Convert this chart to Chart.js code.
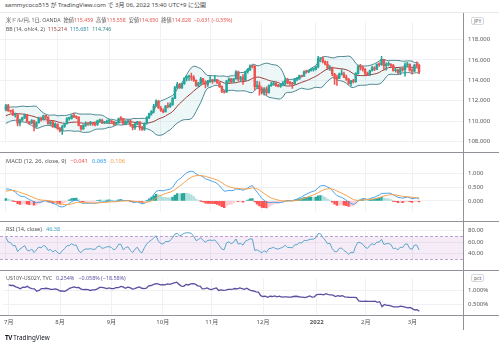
<!DOCTYPE html>
<html>
<head>
<meta charset="utf-8">
<script src="https://cdn.jsdelivr.net/npm/chart.js@4.4.1/dist/chart.umd.min.js"></script>
<style>
  body { margin: 0; background: #fff; width: 499px; height: 347px; overflow: hidden; position: relative;
         font-family: "Noto Sans", "Noto Sans CJK JP", sans-serif; }
  .pane { position: absolute; left: 0; width: 499px; }
  .txt { position: absolute; font-size: 5.2px; line-height: 8px; color: #555; white-space: nowrap; z-index: 5; }
  .txt span { margin-right: 3px; }
  .txt.wide span { margin-right: 4px; }
  .hl { position: absolute; left: 0; width: 499px; height: 1px; background: #8f9298; z-index: 4; }
  .vl { position: absolute; left: 463px; width: 1px; top: 13px; height: 317px; background: #8f9298; z-index: 4; }
  .tag { position: absolute; left: 471px; font-size: 5px; line-height: 6px; padding: 0 2px; color: #666;
         border: 1px solid #d6d8de; border-radius: 2px; z-index: 5; background: #fff; }
  .r { color: #e5534b; }
</style>
</head>
<body>
<div class="pane" style="top:13px;height:139px"><canvas id="main"></canvas></div>
<div class="pane" style="top:152px;height:69px"><canvas id="macd"></canvas></div>
<div class="pane" style="top:221px;height:49px"><canvas id="rsi"></canvas></div>
<div class="pane" style="top:270px;height:60px"><canvas id="spread"></canvas></div>

<div class="hl" style="top:12px;background:#e6e8ee"></div>
<div class="hl" style="top:152px"></div>
<div class="hl" style="top:221px"></div>
<div class="hl" style="top:270px"></div>
<div class="hl" style="top:315px"></div>
<div class="vl"></div>

<div class="txt" style="left:5px;top:1px;font-size:6px;color:#444">sammycoco515 が TradingView.com で 3月 06, 2022 15:40 UTC+9 に公開</div>
<div class="txt" style="left:6px;top:16px">
  <span>米ドル/円, 1日, OANDA</span><span>始値<b class="r" style="font-weight:normal">115.459</b></span><span>高値<b class="r" style="font-weight:normal">115.558</b></span><span>安値<b class="r" style="font-weight:normal">114.650</b></span><span>終値<b class="r" style="font-weight:normal">114.828</b></span><span class="r">−0.631 (−0.55%)</span>
</div>
<div class="txt" style="left:6px;top:25px">
  <span>BB (14, ohlc4, 2)</span><span style="color:#9c3d3a">115.214</span><span style="color:#2f86a6">115.681</span><span style="color:#2f8a80">114.746</span>
</div>
<div class="txt wide" style="left:6px;top:157px;font-size:5.7px">
  <span>MACD (12, 26, close, 9)</span><span style="color:#ef5350">−0.041</span><span style="color:#2196f3">0.065</span><span style="color:#f39c3d">0.106</span>
</div>
<div class="txt wide" style="left:6px;top:225px;font-size:5.6px">
  <span>RSI (14, close)</span><span style="color:#3fa7c4">46.38</span>
</div>
<div class="txt wide" style="left:6px;top:274px;font-size:5.4px">
  <span>US10Y-US02Y, TVC</span><span style="color:#5b4fa0">0.254%</span><span style="color:#5b4fa0">−0.058% (−18.58%)</span>
</div>
<div class="tag" style="top:17px">JPY</div>
<div class="tag" style="top:274px">pct</div>
<div class="txt" style="left:5px;top:333px;font-size:6.3px;line-height:9px;color:#131722">
  <b style="letter-spacing:-0.5px">TV</b> TradingView
</div>

<script>
// daily USD/JPY candles, 2021-05-17 .. 2022-03-04 (first WARMUP bars only feed the indicators)
const WARMUP = 33;

const opens = [
  109.35, 109.21, 108.88, 109.22, 108.76, 108.96, 108.76, 108.74, 109.14, 109.86, 109.85,
  109.57, 109.48, 109.50, 110.29, 109.52, 109.25, 109.47, 109.62, 109.32, 109.67, 110.05, 110.07, 110.70, 110.20, 110.21, 110.31, 110.65, 110.90, 110.85, 110.75, 110.61, 110.52,
  111.10, 111.53, 111.04, 110.97, 110.62, 110.62, 109.80, 110.12, 110.35, 110.62, 109.95, 109.82, 110.07, 109.49, 109.85, 110.30, 110.15, 110.55, 110.39, 109.77, 109.91, 109.47,
  109.72, 109.30, 109.05, 109.48, 109.77, 110.25, 110.28, 110.58, 110.41, 110.40, 109.58, 109.25, 109.61, 109.77, 109.74, 109.79, 109.72, 109.69, 110.03, 110.09, 109.83, 109.90,
  110.00, 110.02, 109.93, 109.71, 109.84, 110.26, 110.25, 109.72, 109.93, 110.03, 109.67, 109.38, 109.71, 109.93, 109.41, 109.23, 109.79, 110.34, 110.74, 111.00, 111.49, 111.97,
  111.29, 111.05, 110.92, 111.45, 111.42, 111.62, 112.23, 113.30, 113.60, 113.26, 113.68, 114.21, 114.35, 114.37, 114.30, 113.99, 113.49, 113.70, 114.14, 113.81, 113.59,
  113.95, 114.00, 113.96, 114.06, 113.75, 113.40, 112.92, 112.86, 113.93, 114.12, 113.86, 114.14, 114.83, 114.10, 114.27, 114.00, 114.85, 115.07, 115.40, 115.36, 113.38, 113.50,
  113.17, 112.80, 113.17, 112.80, 113.48, 113.57, 113.73, 113.48, 113.41, 113.57, 113.72, 114.04, 113.72, 113.70, 113.65, 114.11, 114.12, 114.45, 114.40, 114.86, 114.82, 114.97, 115.07,
  115.08, 115.32, 116.13, 116.13, 115.83, 115.57, 115.20, 115.27, 114.63, 114.20, 114.19, 114.60, 114.62, 114.30, 114.10, 113.70, 113.94, 113.87, 114.66, 115.34, 115.26,
  115.09, 114.68, 114.53, 114.96, 115.23, 115.10, 115.55, 115.54, 116.04, 115.43, 115.55, 115.59, 115.46, 114.93, 115.00, 114.77, 115.11, 115.05, 115.52, 115.55,
  114.99, 114.90, 115.46, 115.459
];
const highs = [
  109.45, 109.30, 109.30, 109.30, 109.05, 108.98, 108.95, 109.20, 109.95, 110.20, 109.90,
  109.70, 109.65, 110.33, 110.35, 109.65, 109.55, 109.70, 109.75, 109.72, 110.15, 110.15, 110.80, 110.82, 110.45, 110.38, 110.75, 111.00, 111.05, 110.95, 110.80, 110.70, 111.12,
  111.66, 111.65, 111.10, 111.15, 110.80, 110.65, 110.20, 110.40, 110.70, 110.65, 110.00, 110.15, 110.10, 109.95, 110.40, 110.40, 110.60, 110.60, 110.45, 110.00, 110.00, 109.85,
  109.75, 109.40, 109.60, 109.80, 110.35, 110.40, 110.62, 110.80, 110.50, 110.42, 109.60, 109.65, 109.95, 109.85, 110.00, 109.90, 109.85, 110.10, 110.20, 110.20, 110.00, 110.10,
  110.20, 110.10, 110.00, 109.92, 110.30, 110.45, 110.28, 110.05, 110.15, 110.16, 109.70, 109.80, 110.00, 109.95, 109.50, 109.85, 110.45, 110.80, 111.05, 111.65, 112.08, 112.05,
  111.45, 111.20, 111.55, 111.80, 111.80, 112.30, 113.40, 113.80, 113.70, 113.75, 114.25, 114.45, 114.50, 114.70, 114.45, 114.05, 113.80, 114.30, 114.20, 113.95, 114.00,
  114.40, 114.10, 114.45, 114.10, 113.80, 113.45, 113.00, 114.00, 114.25, 114.20, 114.20, 114.95, 114.90, 114.40, 114.55, 114.90, 115.15, 115.52, 115.45, 115.45, 113.90, 113.85,
  113.35, 113.30, 113.35, 113.55, 113.80, 113.90, 113.78, 113.60, 113.70, 113.90, 114.25, 114.20, 113.90, 113.80, 114.20, 114.30, 114.52, 114.50, 114.92, 115.00, 115.00, 115.15, 115.20,
  115.40, 116.35, 116.20, 116.30, 115.90, 115.85, 115.45, 115.30, 114.65, 114.50, 114.70, 115.05, 114.80, 114.50, 114.20, 114.00, 114.10, 114.75, 115.50, 115.55, 115.40,
  115.15, 114.80, 115.00, 115.40, 115.35, 115.60, 115.70, 116.34, 116.05, 115.70, 115.80, 115.60, 115.55, 115.20, 115.10, 115.20, 115.20, 115.70, 115.75, 115.60,
  115.15, 115.55, 115.80, 115.558
];
const lows = [
  109.05, 108.80, 108.60, 108.70, 108.70, 108.58, 108.60, 108.68, 109.07, 109.70, 109.40,
  109.30, 109.40, 109.45, 109.45, 109.20, 109.20, 109.40, 109.20, 109.30, 109.60, 109.95, 109.95, 110.10, 110.00, 109.75, 110.25, 110.55, 110.75, 110.70, 110.50, 110.40, 110.45,
  111.00, 110.95, 110.85, 110.55, 110.40, 109.55, 109.55, 110.00, 110.25, 109.90, 109.70, 109.75, 109.05, 109.40, 109.80, 110.00, 110.10, 110.25, 109.70, 109.60, 109.40, 109.35,
  109.20, 108.95, 108.72, 109.40, 109.70, 110.10, 110.20, 110.35, 110.25, 109.55, 109.12, 109.20, 109.50, 109.60, 109.60, 109.60, 109.55, 109.60, 109.90, 109.75, 109.75, 109.80,
  109.85, 109.85, 109.60, 109.65, 109.80, 110.05, 109.70, 109.65, 109.80, 109.50, 109.15, 109.20, 109.65, 109.12, 109.10, 109.10, 109.70, 110.25, 110.60, 110.80, 111.45, 111.25,
  110.95, 110.80, 110.90, 111.30, 111.35, 111.55, 112.20, 113.15, 113.20, 113.20, 113.60, 113.95, 114.00, 114.00, 113.90, 113.40, 113.35, 113.60, 113.60, 113.25, 113.40,
  113.80, 113.70, 113.85, 113.70, 113.30, 112.80, 112.73, 112.80, 113.80, 113.75, 113.80, 114.10, 113.95, 113.90, 113.60, 114.00, 114.70, 114.95, 115.20, 113.05, 113.20, 112.55,
  112.65, 112.55, 112.55, 112.75, 113.40, 113.50, 113.40, 113.35, 113.30, 113.45, 113.50, 113.65, 113.55, 113.20, 113.60, 113.95, 114.10, 114.30, 114.38, 114.70, 114.75, 114.90, 114.90,
  115.00, 115.20, 115.80, 115.70, 115.50, 115.05, 114.95, 114.45, 113.60, 113.50, 114.15, 114.50, 114.25, 114.00, 113.60, 113.45, 113.75, 113.80, 114.60, 115.00, 114.90,
  114.55, 114.45, 114.45, 114.90, 114.95, 115.05, 115.35, 115.45, 115.00, 115.00, 115.40, 115.30, 114.90, 114.80, 114.60, 114.55, 114.90, 114.40, 115.30, 114.90,
  114.60, 114.85, 115.30, 114.650
];
const closes = [
  109.21, 108.88, 109.22, 108.76, 108.96, 108.76, 108.74, 109.14, 109.86, 109.85, 109.57,
  109.48, 109.50, 110.29, 109.52, 109.25, 109.47, 109.62, 109.32, 109.67, 110.05, 110.07, 110.70, 110.20, 110.21, 110.31, 110.65, 110.90, 110.85, 110.75, 110.61, 110.52, 111.10,
  111.53, 111.04, 110.97, 110.62, 110.62, 109.80, 110.12, 110.35, 110.62, 109.95, 109.82, 110.07, 109.49, 109.85, 110.30, 110.15, 110.55, 110.39, 109.77, 109.91, 109.47, 109.72,
  109.30, 109.05, 109.48, 109.77, 110.25, 110.28, 110.58, 110.41, 110.40, 109.58, 109.25, 109.61, 109.77, 109.74, 109.79, 109.72, 109.69, 110.03, 110.09, 109.83, 109.90, 110.00,
  110.02, 109.93, 109.71, 109.84, 110.26, 110.25, 109.72, 109.93, 110.03, 109.67, 109.38, 109.71, 109.93, 109.41, 109.23, 109.79, 110.34, 110.74, 111.00, 111.49, 111.97, 111.29,
  111.05, 110.92, 111.45, 111.42, 111.62, 112.23, 113.30, 113.60, 113.26, 113.68, 114.21, 114.35, 114.37, 114.30, 113.99, 113.49, 113.70, 114.14, 113.81, 113.59, 113.95,
  114.00, 113.96, 114.06, 113.75, 113.40, 112.92, 112.86, 113.93, 114.12, 113.86, 114.14, 114.83, 114.10, 114.27, 114.00, 114.85, 115.07, 115.40, 115.36, 113.38, 113.50, 113.17,
  112.80, 113.17, 112.80, 113.48, 113.57, 113.73, 113.48, 113.41, 113.57, 113.72, 114.04, 113.72, 113.70, 113.65, 114.11, 114.12, 114.45, 114.40, 114.86, 114.82, 114.97, 115.07, 115.08,
  115.32, 116.13, 116.13, 115.83, 115.57, 115.20, 115.27, 114.63, 114.20, 114.19, 114.60, 114.62, 114.30, 114.10, 113.70, 113.94, 113.87, 114.66, 115.34, 115.26, 115.09,
  114.68, 114.53, 114.96, 115.23, 115.10, 115.55, 115.54, 116.04, 115.43, 115.55, 115.59, 115.46, 114.93, 115.00, 114.77, 115.11, 115.05, 115.52, 115.55, 114.99,
  114.90, 115.46, 115.459, 114.828
];

// US10Y - US02Y spread (%), 2021-07-01 .. 2022-03-04
const spread = [
  1.21, 1.19, 1.19, 1.14, 1.11, 1.07, 1.13, 1.12, 1.16, 1.10, 1.08, 1.07, 0.98, 1.01, 1.08, 1.08, 1.09, 1.08, 1.05, 1.05, 1.07, 1.04,
  0.99, 0.99, 0.98, 1.02, 1.09, 1.11, 1.14, 1.11, 1.12, 1.06, 1.04, 1.05, 1.04, 1.01, 1.03, 1.03, 1.07, 1.12, 1.12, 1.10, 1.08, 1.10,
  1.08, 1.08, 1.11, 1.11, 1.16, 1.14, 1.09, 1.13, 1.11, 1.06, 1.08, 1.11, 1.14, 1.09, 1.08, 1.09, 1.18, 1.19, 1.22, 1.26, 1.25, 1.21,
  1.22, 1.21, 1.25, 1.23, 1.26, 1.29, 1.31, 1.23, 1.17, 1.16, 1.23, 1.21, 1.25, 1.26, 1.24, 1.18, 1.17, 1.07, 1.08, 1.10, 1.06,
  1.04, 1.08, 1.10, 1.01, 1.03, 1.01, 1.02, 1.05, 1.05, 1.06, 1.08, 1.07, 1.10, 1.08, 1.05, 1.09, 1.04, 1.00, 0.99, 0.96, 0.95, 0.82,
  0.79, 0.80, 0.76, 0.80, 0.79, 0.81, 0.78, 0.80, 0.77, 0.78, 0.78, 0.77, 0.77, 0.79, 0.80, 0.79, 0.77, 0.77, 0.75, 0.78, 0.81, 0.77, 0.78,
  0.86, 0.87, 0.87, 0.85, 0.89, 0.86, 0.85, 0.84, 0.79, 0.82, 0.80, 0.82, 0.78, 0.77, 0.76, 0.76, 0.76, 0.75, 0.63, 0.61, 0.61,
  0.62, 0.61, 0.61, 0.61, 0.62, 0.58, 0.60, 0.42, 0.50, 0.47, 0.47, 0.44, 0.41, 0.41, 0.41, 0.44, 0.42, 0.40, 0.38, 0.39,
  0.35, 0.30, 0.312, 0.254
];

// trading days per month from July 2021 and the bottom axis labels
const monthBars = [22, 22, 22, 21, 22, 23, 21, 20, 4];
const monthLabels = ['7月', '8月', '9月', '10月', '11月', '12月', '2022', '2月', '3月'];

const priceTicks = [108, 110, 112, 114, 116, 118];
const macdTicks = [0, 0.5, 1];
const rsiTicks = [40, 60, 80];
const spreadTicks = [0.5, 1];

const UP = '#26a69a', DOWN = '#ef5350';
const FONT = '"Noto Sans", "Noto Sans CJK JP", sans-serif';
const X_MIN = -2.5, X_MAX = 194.7;

Chart.defaults.font.family = FONT;
Chart.defaults.font.size = 6;
Chart.defaults.animation = false;

const monthStart = [];
monthBars.reduce((acc, n) => { monthStart.push(acc); return acc + n; }, 0);

// ---- indicators ----
const N = closes.length;
const ohlc4 = closes.map((c, i) => (opens[i] + highs[i] + lows[i] + c) / 4);

const bbMid = [], bbUp = [], bbLo = [];
for (let i = 0; i < N; i++) {
  if (i < 13) { bbMid.push(null); bbUp.push(null); bbLo.push(null); continue; }
  const w = ohlc4.slice(i - 13, i + 1);
  const m = w.reduce((a, b) => a + b, 0) / 14;
  const sd = Math.sqrt(w.reduce((a, b) => a + (b - m) ** 2, 0) / 14);
  bbMid.push(m); bbUp.push(m + 2 * sd); bbLo.push(m - 2 * sd);
}

function ema(arr, len) {
  const k = 2 / (len + 1);
  let prev = arr[0];
  return arr.map((v, i) => (prev = i ? v * k + prev * (1 - k) : v));
}
const e12 = ema(closes, 12), e26 = ema(closes, 26);
const macdLine = closes.map((_, i) => e12[i] - e26[i]);
const signal = ema(macdLine, 9);
const hist = macdLine.map((v, i) => v - signal[i]);

const rsi = [null];
let avgUp = 0, avgDn = 0;
for (let i = 1; i < N; i++) {
  const ch = closes[i] - closes[i - 1];
  const u = Math.max(ch, 0), d = Math.max(-ch, 0);
  if (i <= 14) { avgUp += u / 14; avgDn += d / 14; }
  else { avgUp = (avgUp * 13 + u) / 14; avgDn = (avgDn * 13 + d) / 14; }
  rsi.push(avgDn === 0 ? 100 : 100 - 100 / (1 + avgUp / avgDn));
}

const shown = arr => arr.slice(WARMUP).map((y, j) => ({ x: j, y }));

// ---- shared axes ----
function xAxis(showLabels) {
  return {
    type: 'linear', min: X_MIN, max: X_MAX, offset: false,
    afterBuildTicks: s => { s.ticks = monthStart.map(v => ({ value: v })); },
    afterFit: s => { s.height = showLabels ? 15 : 0; },
    grid: { color: '#eff1f5', drawTicks: false, offset: false },
    border: { display: false },
    ticks: {
      display: showLabels, autoSkip: false, maxRotation: 0, padding: 4, color: '#555',
      font: c => ({ size: 6, family: FONT, weight: c.tick && c.tick.value === monthStart[6] ? 'bold' : 'normal' }),
      callback: v => monthLabels[monthStart.indexOf(v)]
    }
  };
}
function yAxis(min, max, vals, fmt) {
  return {
    position: 'right', min, max,
    afterBuildTicks: s => { s.ticks = vals.map(v => ({ value: v })); },
    afterFit: s => { s.width = 36; },
    grid: { color: '#eff1f5', drawTicks: false },
    border: { display: false },
    ticks: { color: '#555', padding: 5, callback: fmt }
  };
}
const base = {
  responsive: true, maintainAspectRatio: false, events: [],
  layout: { padding: 0, autoPadding: false },
  plugins: { legend: { display: false }, tooltip: { enabled: false } }
};
const lineDs = (data, color, extra) => Object.assign({
  type: 'line', data, borderColor: color, borderWidth: 1, pointRadius: 0, tension: 0, fill: false
}, extra || {});

// ---- price pane: candles + Bollinger bands ----
const vis = Array.from({ length: N - WARMUP }, (_, j) => j + WARMUP);
const candleColor = i => (closes[i] >= opens[i] ? UP : DOWN);

new Chart(document.getElementById('main'), {
  type: 'bar',
  data: {
    datasets: [
      { data: vis.map(i => ({ x: i - WARMUP, y: [opens[i], closes[i]] })), backgroundColor: vis.map(candleColor),
        barThickness: 1.8, grouped: false, minBarLength: 1, order: 0 },
      { data: vis.map(i => ({ x: i - WARMUP, y: [lows[i], highs[i]] })), backgroundColor: vis.map(candleColor),
        barThickness: 0.9, grouped: false, order: 1 },
      lineDs(shown(bbMid), '#9c3d3a', { order: 2 }),
      lineDs(shown(bbUp), '#4b8790', { order: 3, fill: '+1', backgroundColor: 'rgba(40,150,160,0.08)' }),
      lineDs(shown(bbLo), '#4b8790', { order: 4 })
    ]
  },
  options: Object.assign({}, base, {
    scales: { x: xAxis(false), y: yAxis(107.83, 119.74, priceTicks, v => v.toFixed(3)) }
  })
});

// ---- MACD pane ----
const histColor = i => {
  const h = hist[i], p = hist[i - 1];
  if (h >= 0) return p < h ? '#26a69a' : '#b2dfdb';
  return p < h ? '#ffcdd2' : '#ff5252';
};
new Chart(document.getElementById('macd'), {
  type: 'bar',
  data: {
    datasets: [
      { data: shown(hist), backgroundColor: vis.map(histColor), barThickness: 1.8, grouped: false, order: 2 },
      lineDs(shown(macdLine), '#4aa3e8', { order: 1 }),
      lineDs(shown(signal), '#f5a04a', { order: 0 })
    ]
  },
  options: Object.assign({}, base, {
    scales: { x: xAxis(false), y: yAxis(-0.42, 1.46, macdTicks, v => v.toFixed(3)) }
  })
});

// ---- RSI pane with 30/70 band ----
const rsiBand = {
  id: 'rsiBand',
  beforeDatasetsDraw(chart) {
    const { ctx, chartArea: a, scales: { y } } = chart;
    const top = y.getPixelForValue(70), bot = y.getPixelForValue(30);
    ctx.save();
    ctx.fillStyle = 'rgba(156,39,176,0.09)';
    ctx.fillRect(a.left, top, a.right - a.left, bot - top);
    ctx.strokeStyle = 'rgba(160,130,190,0.7)';
    ctx.lineWidth = 1;
    ctx.setLineDash([3, 2]);
    [top, bot].forEach(py => {
      ctx.beginPath(); ctx.moveTo(a.left, Math.round(py) + 0.5); ctx.lineTo(a.right, Math.round(py) + 0.5); ctx.stroke();
    });
    ctx.restore();
  }
};
new Chart(document.getElementById('rsi'), {
  type: 'line',
  data: { datasets: [lineDs(shown(rsi), '#5aa5c8')] },
  options: Object.assign({}, base, {
    scales: { x: xAxis(false), y: yAxis(26, 81.9, rsiTicks, v => v.toFixed(2)) }
  }),
  plugins: [rsiBand]
});

// ---- yield spread pane with the date axis ----
new Chart(document.getElementById('spread'), {
  type: 'line',
  data: { datasets: [lineDs(spread.map((y, x) => ({ x, y })), '#5b4fa0', { borderWidth: 1.3 })] },
  options: Object.assign({}, base, {
    scales: { x: xAxis(true), y: yAxis(0.118, 1.441, spreadTicks, v => v.toFixed(3) + '%') }
  })
});
</script>
</body>
</html>
